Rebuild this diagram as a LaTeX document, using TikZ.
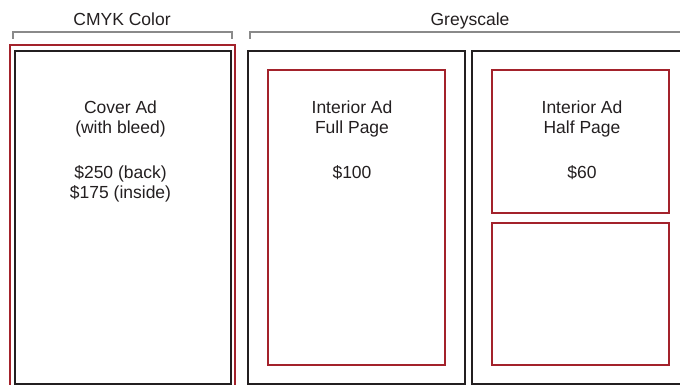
\documentclass[tikz,border=0pt]{standalone}
\usepackage{fontspec}
\setmainfont{Liberation Sans}
\definecolor{adred}{HTML}{A3222B}
\definecolor{adblack}{HTML}{231F20}
\definecolor{adgrey}{HTML}{8A8A8A}
\begin{document}
\begin{tikzpicture}[x=1pt,y=-1pt,
    page/.style={draw=adblack,line width=2pt},
    trim/.style={draw=adred,line width=2pt},
    bracket/.style={draw=adgrey,line width=2pt},
    adtext/.style={font=\fontsize{17.5}{20}\selectfont,align=center,text=adblack,inner sep=0pt,anchor=north}]
  \useasboundingbox (0,0) rectangle (680,385);
  \clip (0,0) rectangle (680,385);
  % group brackets
  \draw[bracket] (13,39) -- (13,32.5) -- (232,32.5) -- (232,39);
  \draw[bracket] (250,39) -- (250,32.5) -- (700,32.5);
  \node[adtext,anchor=base] (cmyk) at (122,25.5) {CMYK Color};
  \node[adtext,anchor=base] (grey) at (470,25.5) {Greyscale};
  % cover
  \draw[trim] (10,45.5) rectangle (235,400);
  \draw[page] (14.5,51) rectangle (230.5,383.5);
  \node[adtext] (cover) at (120.5,101) {Cover Ad\\(with bleed)\\[25pt]\$250 (back)\\\$175 (inside)};
  % interior pages
  \draw[page] (247.5,51) rectangle (465,383.5);
  \draw[page] (472,51) rectangle (700,383.5);
  \draw[trim] (267.5,70) rectangle (445,365);
  \draw[trim] (492,70) rectangle (669,212.5);
  \draw[trim] (492,223) rectangle (669,365);
  \node[adtext] (full) at (352,101) {Interior Ad\\Full Page\\[25pt]\$100};
  \node[adtext] (half) at (582,101) {Interior Ad\\Half Page\\[25pt]\$60};
\end{tikzpicture}
\end{document}
